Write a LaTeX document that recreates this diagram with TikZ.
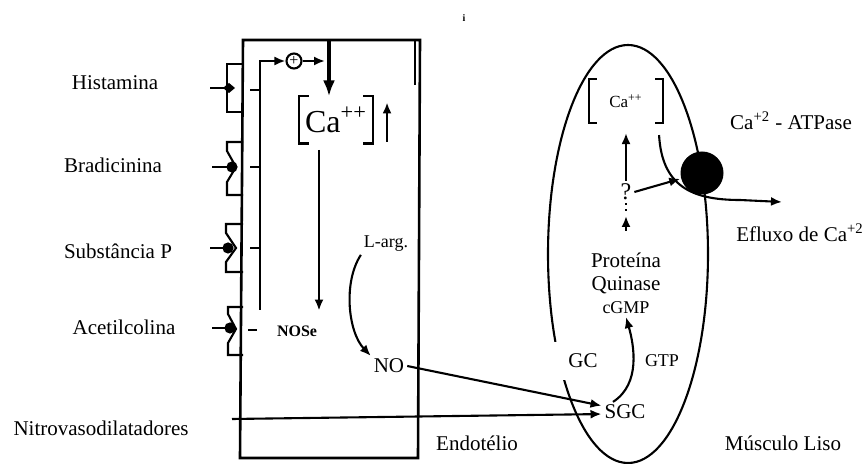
\documentclass[tikz,border=0pt]{standalone}
\usepackage{fontspec}
\setmainfont{Liberation Serif}
\usetikzlibrary{arrows.meta}

\begin{document}
\begin{tikzpicture}[x=0.5pt, y=-0.5pt, % 以参考图的像素为单位, y 轴向下
        line width=1.05pt, % 线条统一加粗
        every node/.style={font=\fontsize{10.5}{11.5}\selectfont, inner sep=1pt}, % 统一设置节点字体
        arr/.style={-{Latex[length=5.5pt,width=4.5pt]}}, % 普通箭头
        wall/.style={line width=1.3pt}, % 细胞壁
        oldfont/.style={font=\fontsize{9}{10}\selectfont} % 原图中较小的字
    ]
    \useasboundingbox (0,0) rectangle (863,464);

    % 内皮细胞 (矩形)
    \coordinate (E_tl) at (243,40);
    \coordinate (E_tr) at (420,40);
    \coordinate (E_br) at (418,458);
    \coordinate (E_bl) at (240,458);
    \draw[wall] (E_tl) -- (E_tr) -- (E_br) -- (E_bl) -- cycle;
    \draw[wall] (415,40) -- (415,85); % 右上角的内线

    % 左侧的激动剂名称
    \node (hist) at (115,83) {Histamina};
    \node (brad) at (113,165) {Bradicinina};
    \node (subst) at (118,251) {Substância P};
    \node (acetil) at (124,327) {Acetilcolina};
    \node (nitro) at (101,428) {Nitrovasodilatadores};

    % 受体 (画在细胞左壁上)
    \draw (243,64) -- (227,64) -- (227,112) -- (243,112);
    \draw (210,88) -- (226,88);
    \fill (223,88) -- (229,83) -- (235,88) -- (229,93) -- cycle; % 菱形的配体

    \draw (243,142) -- (227,142) -- (227,151) -- (236,167) -- (227,182) -- (227,195) -- (243,195);
    \draw (212,167) -- (230,167);
    \fill (232,167) circle (2.8pt);

    \draw (243,224) -- (226,224) -- (226,233) -- (236,248) -- (226,262) -- (226,272) -- (243,272);
    \draw (210,248) -- (226,248);
    \fill (228,248) circle (2.8pt);

    \draw (243,307) -- (228,307) -- (228,314) -- (236,329) -- (228,343) -- (228,355) -- (243,355);
    \draw (212,328) -- (228,328);
    \fill (230,328) circle (2.8pt);

    % 受体到信号线的短线
    \draw (250,90) -- (260,90);
    \draw (250,167) -- (260,167);
    \draw (250,248) -- (260,248);
    \draw (248,330) -- (257,330);

    % 信号线, 加号和钙离子
    \coordinate (sigBot) at (260,310);
    \node[draw, circle, inner sep=0pt, minimum size=7.5pt, font=\fontsize{8}{8}\selectfont] (plus) at (294,61) {+};
    \draw[arr] (sigBot) |- (plus.west);
    \coordinate (topIn) at (329,40);
    \node[minimum width=36pt, minimum height=22.5pt, font=\fontsize{16}{17}\selectfont] (caEndo) at (336,120) {Ca\textsuperscript{++}};
    \draw[arr, shorten >=2pt] (plus.east) -- (plus.east -| topIn);
    \draw[line width=1.8pt, -{Latex[length=8pt,width=6pt]}] (topIn) -- (topIn |- caEndo.north);
    \draw ([xshift=5pt]caEndo.north west) -- (caEndo.north west) -- (caEndo.south west) -- ([xshift=5pt]caEndo.south west);
    \draw ([xshift=-5pt]caEndo.north east) -- (caEndo.north east) -- (caEndo.south east) -- ([xshift=-5pt]caEndo.south east);
    \draw[arr] ([xshift=7pt,yshift=1pt]caEndo.south east) -- ([xshift=7pt,yshift=-3pt]caEndo.north east); % 升高

    % 一氧化氮合酶
    \node[fill=white, inner xsep=9pt, inner ysep=7pt, font=\bfseries\fontsize{8}{9}\selectfont] (nose) at (297,331) {NOSe};
    \coordinate (caOut) at (319,150);
    \draw[arr] (caOut) -- (caOut |- nose.north);

    % L-精氨酸 -> NO
    \node[oldfont] (larg) at (386,244) {L-arg.};
    \node (no) at (389,366) {NO};
    \draw[arr] (larg.south west) .. controls (343,282) and (348,332) .. (no.north west);

    % 平滑肌细胞 (椭圆)
    \coordinate (M_c) at (628,254);
    \draw (M_c) ellipse [x radius=40pt, y radius=104.5pt];

    % 平滑肌内的钙离子
    \node[minimum width=36pt, minimum height=21pt, font=\fontsize{8.5}{9}\selectfont] (caMus) at (626,101) {Ca\textsuperscript{++}};
    \draw ([xshift=4pt]caMus.north west) -- (caMus.north west) -- (caMus.south west) -- ([xshift=4pt]caMus.south west);
    \draw ([xshift=-4pt]caMus.north east) -- (caMus.north east) -- (caMus.south east) -- ([xshift=-4pt]caMus.south east);

    \node[font=\fontsize{12}{13}\selectfont] (q) at (626,192) {?};
    \draw[arr] (q.north) -- ([yshift=-5pt]caMus.south);
    \draw[dotted] (q.south) -- ++(0,12);
    \coordinate (qBot) at (626,231);
    \draw[arr] (qBot) -- ++(0,-15);

    % 钙泵与钙外流
    \coordinate (effEnd) at (782,202);
    \draw[arr] ([xshift=-2pt,yshift=-6pt]caMus.south east) .. controls (662,185) and (690,200) .. (740,200) -- (effEnd);
    \node[circle, fill=black, minimum size=21.5pt, inner sep=0pt] (ball) at (702,173) {};
    \draw[arr] (q.east) -- (ball.195);
    \node (atp) at (791,121) {Ca\textsuperscript{+2} - ATPase};
    \node (efl) at (800,233) {Efluxo de Ca\textsuperscript{+2}};

    % cGMP 通路
    \node[align=center] (prot) at (626,273) {Proteína\\Quinase};
    \node[oldfont] (cgmp) at (626,308) {cGMP};
    \node[fill=white, inner xsep=9pt, inner ysep=6pt] (gc) at (583,361) {GC};
    \node[oldfont] (gtp) at (662,361) {GTP};
    \node (sgc) at (625,412) {SGC};
    \draw[arr] ([xshift=-6pt]sgc.north) .. controls +(28,-18) and +(8,28) .. (cgmp.south);

    % NO 和硝基血管扩张剂作用于 SGC
    \coordinate (nitroStart) at (232,419);
    \draw[arr] (nitroStart) -- (sgc.185);
    \draw[arr] (no.east) -- (sgc.165);

    % 底部标签
    \node (endo) at (477,443) {Endotélio};
    \node (musc) at (783,443) {Músculo Liso};
    \node[font=\bfseries\fontsize{5}{6}\selectfont] (mark) at (464,18) {i};
\end{tikzpicture}
\end{document}
